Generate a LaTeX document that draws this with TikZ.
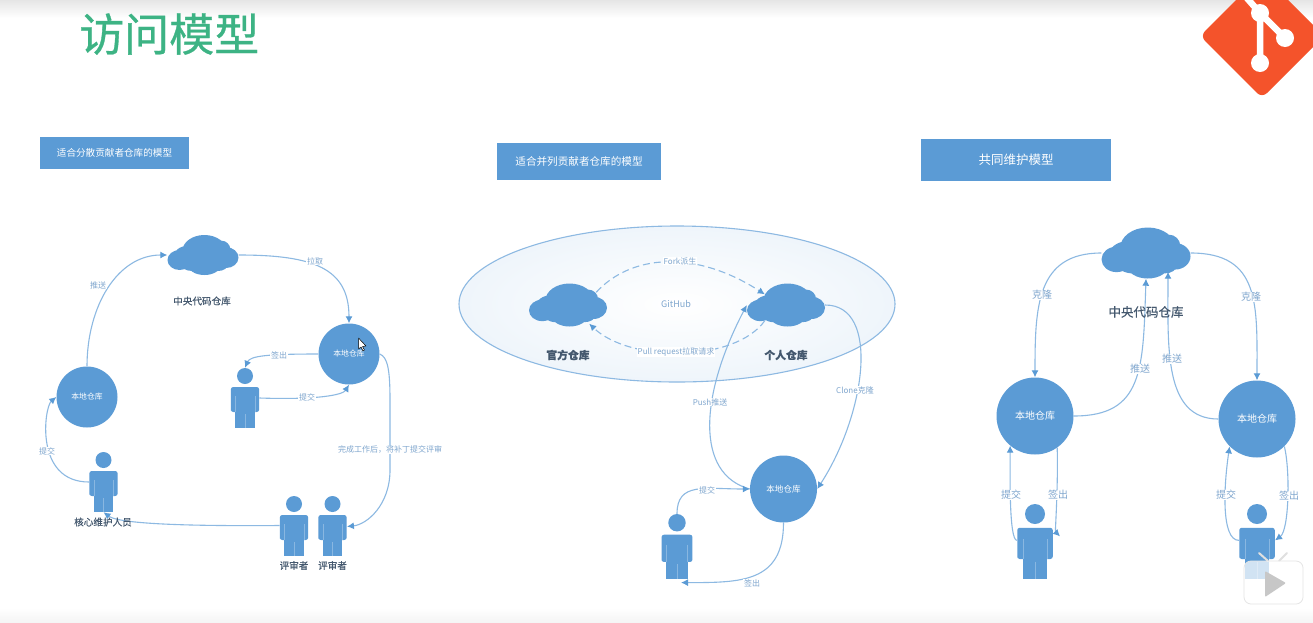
\documentclass[tikz,border=0pt]{standalone}
\usepackage{fontspec}
\setmainfont{Noto Sans CJK SC}
\newfontfamily\titlefont[FakeBold=0.7]{Noto Sans CJK SC}
\newfontfamily\capfont[FakeBold=0.35]{Noto Sans CJK SC}
\usetikzlibrary{shapes.geometric,arrows.meta,shadings}
\definecolor{bluefill}{HTML}{5B9BD5}
\definecolor{linkblue}{HTML}{8DB9E2}
\definecolor{tipblue}{HTML}{5B9BD5}
\definecolor{lblblue}{HTML}{7FA6CE}
\definecolor{darklbl}{HTML}{44586E}
\definecolor{titlegreen}{HTML}{3DB384}
\definecolor{gitred}{HTML}{F4532B}
\newcommand{\fs}[1]{\fontsize{#1}{#1}\selectfont}
\tikzset{
  x=1pt,y=-1pt,
  link/.style={draw=linkblue,line width=1.1pt,-{Latex[length=7pt,width=7pt,color=tipblue]}},
  dashlink/.style={link,dash pattern=on 7pt off 4pt},
  lbl/.style={text=lblblue,fill=white,inner sep=0.6pt,font=\fs{#1}},
  lbl/.default=8,
  cap/.style={text=darklbl,inner sep=0pt,font=\capfont\fs{#1}},
  repo/.style={circle,fill=bluefill,inner sep=0pt,text=white,minimum size=#1},
  titlebox/.style={rectangle,fill=bluefill,text=white,inner sep=0pt},
  bodyfill/.style={fill=bluefill,draw=none},
  slit/.style={draw=bluefill!72!white,line width=0.4pt},
}
% name, x centre, y of head top, scale
\newcommand{\personfig}[4]{%
  \node[circle,fill=bluefill,inner sep=0pt,minimum size=#4*16pt] (#1h) at (#2,#3+#4*8) {};
  \node[inner sep=0pt,minimum width=#4*28.5pt,minimum height=#4*41pt] (#1) at (#2,#3+#4*39.5) {};
  \begin{scope}[shift={(#2,#3)},scale=#4]
    \path[bodyfill,rounded corners=2.5pt] (-14.2,44) -- (-14.2,19) -- (14.2,19) -- (14.2,44) -- (-14.2,44) -- cycle;
    \path[bodyfill] (-9.8,42) rectangle (9.8,60);
    \draw[slit] (0,46) -- (0,60) (-9.8,28) -- (-9.8,44) (9.8,28) -- (9.8,44);
  \end{scope}
}
% name, x, y, width, height
\newcommand{\cloudfig}[5]{%
  \node[inner sep=0pt,minimum width=#4 pt,minimum height=#5 pt] (#1) at (#2,#3) {};
  \begin{scope}[shift={(#2,#3)},x=#4/2*1pt,y=-#5/2*1pt]
    \fill[bluefill]
      (0.04,-0.20) ellipse [x radius=0.62,y radius=0.80]
      (0.51,-0.28) ellipse [x radius=0.26,y radius=0.44]
      (0.65,0.13) ellipse [x radius=0.35,y radius=0.52]
      (0.40,0.05) ellipse [x radius=0.45,y radius=0.55]
      (-0.66,0.25) ellipse [x radius=0.34,y radius=0.50]
      (-0.42,0.12) ellipse [x radius=0.42,y radius=0.58]
      (0.04,0.47) ellipse [x radius=0.47,y radius=0.53]
      (0.42,0.47) ellipse [x radius=0.28,y radius=0.33]
      (-0.30,0.40) ellipse [x radius=0.35,y radius=0.40];
  \end{scope}
}
\begin{document}
\begin{tikzpicture}
\useasboundingbox (0,0) rectangle (1313,622);
\fill[white] (0,0) rectangle (1313,622);
\shade[top color=black!10,bottom color=white] (0,0) rectangle (1313,18);
\shade[top color=white,bottom color=black!4] (0,608) rectangle (1313,622);

% title and logo
\node[text=titlegreen,inner sep=0pt,anchor=west,font=\titlefont\fs{45}] (title) at (79,34) {访问模型};
\begin{scope}
  \clip (1180,0) rectangle (1313,110);
  \fill[gitred,rounded corners=7pt] (1262,-26) -- (1324,36) -- (1262,98) -- (1200,36) -- cycle;
  \draw[white,line width=6.5pt] (1246,-3) -- (1260,13) -- (1285,38) (1260,13) -- (1260,63);
  \fill[white] (1260,13) circle (9) (1285,38) circle (9) (1260,63) circle (9);
\end{scope}

% title boxes
\node[titlebox,minimum width=149pt,minimum height=32pt,font=\fs{9.6}] (b1) at (114.5,153) {适合分散贡献者仓库的模型};
\node[titlebox,minimum width=164pt,minimum height=37pt,font=\fs{10.6}] (b2) at (579,161.5) {适合并列贡献者仓库的模型};
\node[titlebox,minimum width=190pt,minimum height=42pt,font=\fs{12.5}] (b3) at (1016,160) {共同维护模型};

% ---------- panel 1
\cloudfig{c1}{203}{255}{71}{40}
\node[repo=61pt,font=\fs{7.8}] (r1r) at (349,354) {本地仓库};
\node[repo=61pt,font=\fs{7.8}] (r1l) at (87,397) {本地仓库};
\personfig{p1a}{245}{368}{1}
\personfig{p1c}{103.5}{452}{1}
\personfig{p1r}{294}{496}{1}
\personfig{p1s}{332.5}{496}{1}

\draw[link] (r1l.north) .. controls +(0,-60) and +(-50,0) .. (c1.west);
\draw[link] (c1.east) .. controls +(75,0) and +(0,-55) .. (r1r.north);
\draw[link] (r1r.west) .. controls +(-50,0) and +(5,-12) .. (p1ah.north);
\draw[link] ([yshift=9.5pt]p1a.east) .. controls +(60,2) and +(-6,10) .. (r1r.south);
\draw[link] (r1r.east) .. controls +(8,3) and +(0,-30) .. (390,400) -- (390,470) .. controls +(0,35) and +(20,-2) .. ([yshift=9pt]p1s.east);
\draw[link] ([yshift=10pt]p1r.west) .. controls +(-130,1) and +(12,9) .. (p1c.south);
\draw[link] ([yshift=9.5pt]p1c.west) .. controls +(-55,0) and +(-12,10) .. (r1l.west);

\node[cap=9.6] (t1) at (202,301) {中央代码仓库};
\node[cap=9.6] (t2) at (103,522) {核心维护人员};
\node[cap=9.6] (t3) at (294,565.5) {评审者};
\node[cap=9.6] (t4) at (332.5,565.5) {评审者};
\node[lbl] at (98,285) {推送};
\node[lbl] at (315,261) {拉取};
\node[lbl] at (279,355) {签出};
\node[lbl] at (307,397) {提交};
\node[lbl] at (390,450) {完成工作后，将补丁提交评审};
\node[lbl] at (47,451) {提交};

% cursor
\draw[black,fill=white,line width=0.5pt,line join=round] (358.5,338) -- (358.5,349) -- (361,347) -- (363,351) -- (364.5,350) -- (362.5,346.5) -- (366,346) -- cycle;

% ---------- panel 2
\node[ellipse,draw=linkblue,line width=1.1pt,inner color=white,outer color=bluefill!10,minimum width=436pt,minimum height=156pt,text=lblblue,font=\fs{9}] (gh) at (677,304) {\raisebox{-1pt}{\hspace*{-2pt}GitHub}};
\cloudfig{c2a}{568}{305}{78}{43}
\cloudfig{c2b}{786}{305}{78}{43}
\node[repo=67pt,font=\fs{8.6}] (r2) at (783.5,489) {本地仓库};
\personfig{p2}{677}{514}{1.09}

\draw[dashlink] ([shift={(-11,9)}]c2a.north east) .. controls +(35,-38) and +(-70,-45) .. ([shift={(18,11)}]c2b.north west);
\draw[dashlink] ([shift={(18,-6)}]c2b.south west) .. controls +(-30,42) and +(41,39) .. ([shift={(-18,-3)}]c2a.south east);
\draw[link] (r2.west) .. controls +(-55,-15) and +(-47,90) .. (c2b.west);
\draw[link] (c2b.east) .. controls +(56,0) and +(48,-74) .. (r2.east);
\draw[link] (p2h.north) .. controls +(0,-32) and +(-45,0) .. (r2.west);
\draw[link] (r2.south) .. controls +(0,60) and +(60,0) .. ([shift={(4,3)}]p2.south);

\node[cap=10.8] (t5) at (568,355) {\textbf{官方仓库}};
\node[cap=10.8] (t6) at (786,355) {\textbf{个人仓库}};
\node[lbl=8] at (680,261) {Fork派生};
\node[lbl=8] at (676,352) {Pull request拉取请求};
\node[lbl=8] at (710,402) {Push推送};
\node[lbl=8] at (855,390) {Clone克隆};
\node[lbl=8] at (707,490) {提交};
\node[lbl=8] at (752,583) {签出};

% ---------- panel 3
\cloudfig{c3}{1146}{253}{89}{51}
\node[repo=77pt,font=\fs{10}] (r3l) at (1035,416) {本地仓库};
\node[repo=77pt,font=\fs{10}] (r3r) at (1257,419) {本地仓库};
\personfig{p3l}{1035}{504}{1.25}
\personfig{p3r}{1257}{504}{1.25}

\draw[link] (c3.west) .. controls +(-65,0) and +(0,-70) .. (r3l.north);
\draw[link] (c3.east) .. controls +(70,0) and +(0,-75) .. (r3r.north);
\draw[link] (r3l.east) .. controls +(70,0) and +(-3,90) .. (c3.south);
\draw[link] (r3r.west) .. controls +(-55,0) and +(0,75) .. ([shift={(22,-7)}]c3.south);
\draw[link] ([yshift=13pt]p3l.west) .. controls +(-8,0) and +(0,30) .. (r3l.230);
\draw[link] (r3l.305) .. controls +(1,40) and +(-5,-5) .. ([shift={(7,-17)}]p3l.east);
\draw[link] ([yshift=13pt]p3r.west) .. controls +(-18,0) and +(-6,40) .. (r3r.225);
\draw[link] (r3r.315) .. controls +(6,25) and +(14,-10) .. ([yshift=13pt]p3r.east);

\node[cap=12.5] (t7) at (1146,312) {中央代码仓库};
\node[lbl=10] at (1042,295) {克隆};
\node[lbl=10] at (1251,297) {克隆};
\node[lbl=10] at (1140,369) {推送};
\node[lbl=10] at (1172,359) {推送};
\node[lbl=10] at (1011,495) {提交};
\node[lbl=10] at (1058,495) {签出};
\node[lbl=10] at (1226,495) {提交};
\node[lbl=10] at (1289,496) {签出};

% video watermark
\draw[black!12,line width=2pt,line cap=round] (1259,553) -- (1268,561) (1287,553) -- (1279,561);
\fill[white,opacity=0.72,rounded corners=7pt] (1244,561) rectangle (1303,604);
\draw[black!10,line width=0.8pt,rounded corners=7pt] (1244,561) rectangle (1303,604);
\fill[black!22,rounded corners=1pt] (1265,571) -- (1286,583) -- (1265,597) -- cycle;
\end{tikzpicture}
\end{document}
